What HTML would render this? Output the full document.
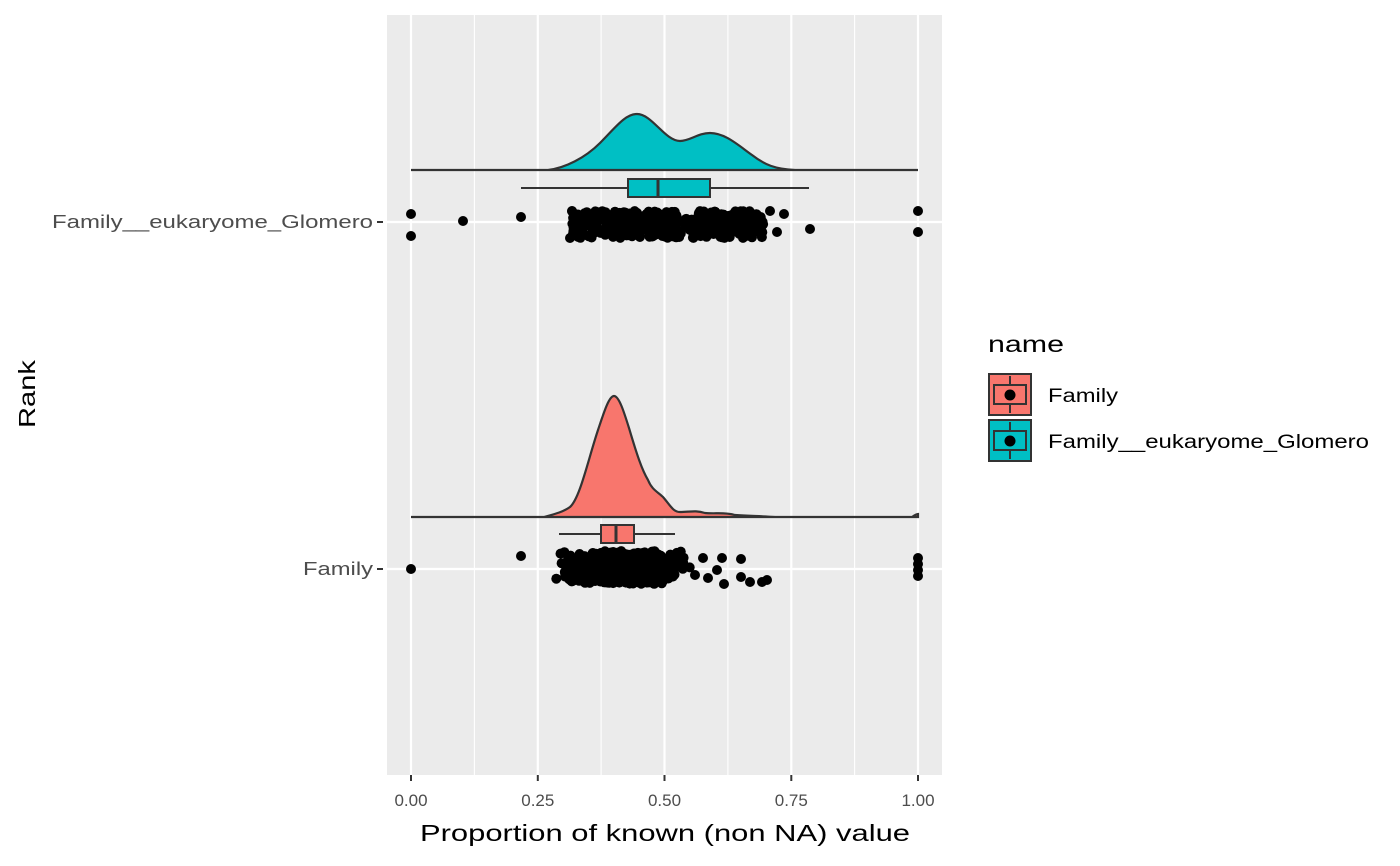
<!DOCTYPE html>
<html><head><meta charset="utf-8"><style>
html,body{margin:0;padding:0;background:#fff;}
svg{display:block;font-family:"Liberation Sans","DejaVu Sans",sans-serif;}
</style></head><body>
<svg id="s" width="1400" height="866" viewBox="0 0 1400 866" xmlns="http://www.w3.org/2000/svg">
<rect x="387" y="15" width="555" height="760" fill="#ebebeb"/>
<g stroke="#fff" stroke-width="1.1">
<line x1="474.4" y1="15" x2="474.4" y2="775"/><line x1="601.1" y1="15" x2="601.1" y2="775"/>
<line x1="727.9" y1="15" x2="727.9" y2="775"/><line x1="854.6" y1="15" x2="854.6" y2="775"/>
</g>
<g stroke="#fff" stroke-width="2.2">
<line x1="411" y1="15" x2="411" y2="775"/><line x1="537.8" y1="15" x2="537.8" y2="775"/>
<line x1="664.5" y1="15" x2="664.5" y2="775"/><line x1="791.3" y1="15" x2="791.3" y2="775"/>
<line x1="918" y1="15" x2="918" y2="775"/>
<line x1="387" y1="222" x2="942" y2="222"/><line x1="387" y1="569" x2="942" y2="569"/>
</g>
<!-- teal density -->
<path d="M411,170 L548,170 C565,168 585,158 600,143 C615,128 625,114 637,114 C652,114 665,141 680,141 C690,141 698,133 710,133 C725,133 738,145 752,155 C765,165 775,169 795,170 L918,170 Z" fill="#00bfc4" stroke="#333" stroke-width="2.2"/>
<line x1="521" y1="188" x2="628" y2="188" stroke="#333" stroke-width="2"/>
<line x1="710" y1="188" x2="809" y2="188" stroke="#333" stroke-width="2"/>
<rect x="628" y="179" width="82" height="18" fill="#00bfc4" stroke="#333" stroke-width="2"/>
<line x1="658" y1="179" x2="658" y2="197" stroke="#333" stroke-width="3"/>
<!-- red density -->
<path d="M411,517 L544,517 C555,514 563,512 570,507 C580,498 588,460 598,430 C604,412 609,396 614,396 C619,396 624,412 629,428 C637,455 642,470 648,480 C652,490 658,492 663,497 C670,505 673,512 680,512 C690,512 695,510 705,513 C715,514 725,512 735,515 C750,516 760,516 775,517 L912,517 C915,515 917,514 918,514 L918,517 Z" fill="#f8766d" stroke="#333" stroke-width="2.2"/>
<line x1="559" y1="534" x2="601" y2="534" stroke="#333" stroke-width="2"/>
<line x1="634" y1="534" x2="675" y2="534" stroke="#333" stroke-width="2"/>
<rect x="601" y="525" width="33" height="18" fill="#f8766d" stroke="#333" stroke-width="2"/>
<line x1="616" y1="525" x2="616" y2="543" stroke="#333" stroke-width="3"/>
<g id="pts" fill="#000">
<circle cx="411" cy="214" r="5"/><circle cx="411" cy="236" r="5"/><circle cx="463" cy="221" r="5"/><circle cx="521" cy="217" r="5"/>
<circle cx="810" cy="229" r="5"/><circle cx="918" cy="211" r="5"/><circle cx="918" cy="232" r="5"/>
<circle cx="411" cy="569" r="5"/><circle cx="521" cy="556" r="5"/>
<circle cx="918" cy="558" r="5"/><circle cx="918" cy="564" r="5"/><circle cx="918" cy="570" r="5"/><circle cx="918" cy="576" r="5"/>
<circle cx="741" cy="559" r="5"/><circle cx="703" cy="558" r="5"/><circle cx="722" cy="558" r="5"/><circle cx="717" cy="570" r="5"/>
<circle cx="724" cy="584" r="5"/><circle cx="741" cy="577" r="5"/><circle cx="750" cy="582" r="5"/><circle cx="762" cy="582" r="5"/><circle cx="767" cy="580" r="5"/>
<circle cx="708" cy="578" r="5"/><circle cx="695" cy="575" r="5"/>
<circle cx="784" cy="214" r="5"/><circle cx="770" cy="211" r="5"/><circle cx="777" cy="232" r="5"/><circle cx="572" cy="211" r="5"/><circle cx="570" cy="238" r="5"/>
</g>
<g fill="#4d4d4d" font-size="18">
<text x="373" y="228" text-anchor="end" textLength="321" lengthAdjust="spacingAndGlyphs">Family__eukaryome_Glomero</text>
<text x="373" y="575" text-anchor="end" textLength="70" lengthAdjust="spacingAndGlyphs">Family</text>
</g>
<g fill="#4d4d4d" font-size="17">
<text x="411" y="806" text-anchor="middle">0.00</text><text x="537.8" y="806" text-anchor="middle">0.25</text>
<text x="664.5" y="806" text-anchor="middle">0.50</text><text x="791.3" y="806" text-anchor="middle">0.75</text>
<text x="918" y="806" text-anchor="middle">1.00</text>
</g>
<g stroke="#333" stroke-width="2">
<line x1="377" y1="222" x2="383" y2="222"/><line x1="377" y1="569" x2="383" y2="569"/>
<line x1="411" y1="775" x2="411" y2="781"/><line x1="537.8" y1="775" x2="537.8" y2="781"/>
<line x1="664.5" y1="775" x2="664.5" y2="781"/><line x1="791.3" y1="775" x2="791.3" y2="781"/>
<line x1="918" y1="775" x2="918" y2="781"/>
</g>
<text x="420" y="841" font-size="23" fill="#000" textLength="490" lengthAdjust="spacingAndGlyphs">Proportion of known (non NA) value</text>
<text transform="translate(35,428) rotate(-90)" font-size="23" fill="#000" textLength="68" lengthAdjust="spacingAndGlyphs">Rank</text>
<text x="988" y="352" font-size="23" fill="#000" textLength="76" lengthAdjust="spacingAndGlyphs">name</text>
<g>
<rect x="989" y="374" width="42" height="41" fill="#f8766d" stroke="#333" stroke-width="2"/>
<line x1="1010" y1="376" x2="1010" y2="413" stroke="#333" stroke-width="2"/>
<rect x="994" y="385" width="32" height="19" fill="#f8766d" stroke="#333" stroke-width="2"/>
<circle cx="1010" cy="395" r="5.5"/>
<rect x="989" y="420" width="42" height="41" fill="#00bfc4" stroke="#333" stroke-width="2"/>
<line x1="1010" y1="422" x2="1010" y2="459" stroke="#333" stroke-width="2"/>
<rect x="994" y="431" width="32" height="19" fill="#00bfc4" stroke="#333" stroke-width="2"/>
<circle cx="1010" cy="441" r="5.5"/>
</g>
<text x="1048" y="402" font-size="19" fill="#000" textLength="70" lengthAdjust="spacingAndGlyphs">Family</text>
<text x="1048" y="448" font-size="19" fill="#000" textLength="321" lengthAdjust="spacingAndGlyphs">Family__eukaryome_Glomero</text>
</svg>
<script>
(function(){
var s=12345;function r(){s=(s*1103515245+12345)%2147483648;return s/2147483648;}
var g=document.getElementById('pts'),ns='http://www.w3.org/2000/svg';
function add(x,y){var c=document.createElementNS(ns,'circle');c.setAttribute('cx',x.toFixed(1));c.setAttribute('cy',y.toFixed(1));c.setAttribute('r','5');g.appendChild(c);}
var i,x;
for(i=0;i<450;i++){x=572+r()*192; if(x>678&&x<688&&r()<0.7)continue; add(x,211+r()*27);}
for(i=0;i<380;i++){var u=(r()+r()+r())/3;x=550+u*150;add(x,551+r()*33);}
for(i=0;i<80;i++){add(556+r()*100,554+r()*28);}
})();
</script>
</body></html>
